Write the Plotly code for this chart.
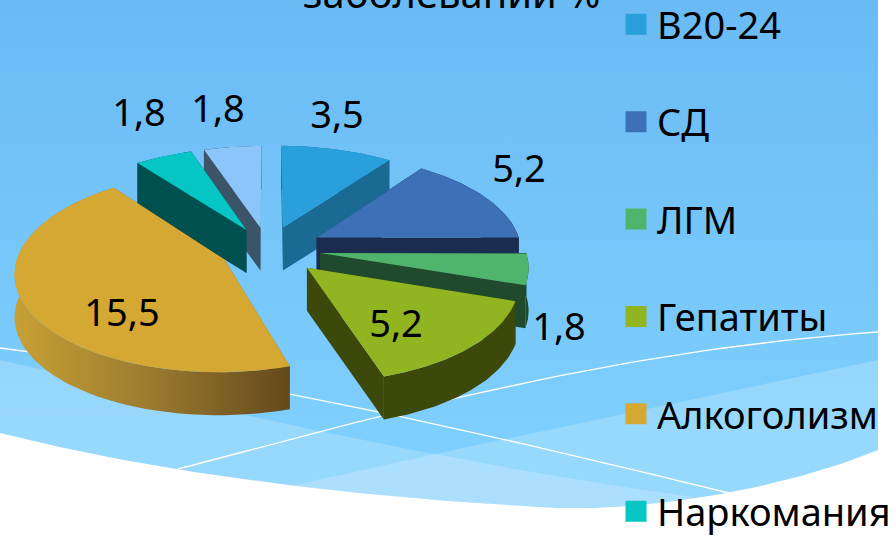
import numpy as np
import plotly.graph_objects as go

# ---- data ----
categories = ["В20-24", "СД", "ЛГМ", "Гепатиты", "Алкоголизм", "Наркомания", "Другие"]
values = [3.5, 5.2, 1.8, 5.2, 15.5, 1.8, 1.8]
value_labels = ["3,5", "5,2", "1,8", "5,2", "15,5", "1,8", "1,8"]
top_colors = ["#299fdc", "#3c71b7", "#4fb56c", "#90b521", "#d5a733", "#05c5c5", "#8bc5fa"]
side_colors = ["#1b6a94", "#1a2d50", "#1f4a2e", "#3d480b", "#8a6a25", "#005050", "#3b5468"]
title_text = "заболеваний %"

# ---- layout of the tilted pie ----
CX, CY = 268, 249
R, TILT, PERSP, DEPTH = 205, 0.47, 0.12, 43
pull = [0.24, 0.27, 0.257, 0.265, 0.236, 0.23, 0.23]
draw_order = [6, 5, 0, 1, 2, 4, 3]
label_x = [337, 519, 559, 396, 122, 139, 218]
label_y = [118, 172, 330, 327, 316, 116, 112]
FONT = "Noto Sans, Open Sans, sans-serif"


def project(X, Y):
    s = 1 / (1 + PERSP * Y)
    return CX + R * X * s, CY - R * TILT * Y * s


def bez(*p, n=40):
    """Sample a Bezier curve for the decorative background."""
    t = np.linspace(0, 1, n)[:, None]
    p = [np.array(q, float) for q in p]
    while len(p) > 1:
        p = [a * (1 - t) + b * t for a, b in zip(p[:-1], p[1:])]
    return p[0]


fig = go.Figure()


def area(pts, color=None, **kw):
    fig.add_trace(go.Scatter(
        x=pts[:, 0], y=pts[:, 1], mode="lines", fill="toself",
        fillcolor=color, line=dict(width=0), hoverinfo="skip", showlegend=False, **kw))


def stroke(pts, color="#ffffff", width=1.3):
    fig.add_trace(go.Scatter(
        x=pts[:, 0], y=pts[:, 1], mode="lines", line=dict(width=width, color=color),
        hoverinfo="skip", showlegend=False))


# ---- background ----
bottom = np.vstack([bez((0, 433), (120, 463), (300, 495), (560, 508)),
                    bez((560, 508), (650, 510), (780, 490), (878, 450))])


def band(top_edge):
    lo, hi = top_edge[:, 0].min(), top_edge[:, 0].max()
    xs = np.linspace(lo, hi, 80)
    ys = np.interp(xs, bottom[:, 0], bottom[:, 1])
    low = np.column_stack([xs, ys])
    if top_edge[0, 0] < top_edge[-1, 0]:
        low = low[::-1]
    return np.vstack([top_edge, low])


area(np.vstack([[[0, 0], [878, 0]], bottom[::-1]]),
     fillgradient=dict(type="vertical", start=0, stop=430,
                       colorscale=[[0, "#6abaf5"], [1, "#7ecffd"]]))
area(band(bez((0, 360), (160, 395), (420, 460), (693, 497))), "rgba(255,255,255,0.2)")
area(band(bez((878, 360), (640, 410), (450, 450), (286, 487))), "rgba(255,255,255,0.2)")
stroke(bez((0, 348), (250, 378), (500, 437), (729, 493)))
stroke(bez((178, 469), (400, 410), (620, 350), (878, 332)))

# ---- slices ----
total = sum(values)
edges = np.cumsum([0] + values) / total * 2 * np.pi
for i in draw_order:
    a0, a1 = edges[i], edges[i + 1]
    mid = (a0 + a1) / 2
    ox, oy = pull[i] * np.sin(mid), pull[i] * np.cos(mid)
    ang = np.linspace(a0, a1, 60)
    ax, ay = project(ox, oy)
    px, py = project(ox + np.sin(ang), oy + np.cos(ang))
    arc = np.column_stack([px, py])
    top = np.vstack([[[ax, ay]], arc])
    drop = np.array([0, DEPTH])
    for seg in ([[ax, ay], arc[0]], [[ax, ay], arc[-1]]):
        seg = np.array(seg)
        area(np.vstack([seg, (seg + drop)[::-1]]), side_colors[i])
    wall = np.vstack([arc, (arc + drop)[::-1]])
    if categories[i] == "Алкоголизм":
        area(wall, fillgradient=dict(type="horizontal",
                                     colorscale=[[0, "#c8a035"], [0.5, "#9a7a2f"], [1, "#64491b"]]))
    else:
        area(wall, side_colors[i])
    area(top, top_colors[i])

# ---- value labels ----
fig.add_trace(go.Scatter(
    x=label_x, y=label_y, mode="text", text=value_labels, cliponaxis=False,
    textfont=dict(family=FONT, size=38, color="#000000"), textposition="middle center",
    hoverinfo="skip", showlegend=False))

# ---- legend ----
for name, col in zip(categories[:6], top_colors[:6]):
    fig.add_trace(go.Scatter(
        x=[None], y=[None], mode="markers", name=name, legendgroup=name,
        marker=dict(symbol="square", size=16, color=col, line=dict(width=5, color=col))))

fig.add_annotation(xref="paper", yref="paper", x=0.505, y=1.0, yanchor="middle", yshift=8,
                   text=title_text, showarrow=False,
                   font=dict(family=FONT, size=40, color="#000000"))

fig.update_layout(
    width=896, height=536, margin=dict(l=0, r=0, t=0, b=0, autoexpand=False),
    paper_bgcolor="#ffffff", plot_bgcolor="rgba(0,0,0,0)",
    xaxis=dict(range=[0, 896], visible=False, fixedrange=True),
    yaxis=dict(range=[536, 0], visible=False, fixedrange=True),
    legend=dict(x=615 / 896, xanchor="left", y=1.013, yanchor="top", bgcolor="rgba(0,0,0,0)",
                tracegroupgap=45, itemsizing="trace", traceorder="grouped", itemwidth=32,
                maxheight=900,
                font=dict(family=FONT, size=38, color="#000000")),
)
fig.write_html("out.html", config={"displayModeBar": False},
               post_script="document.body.style.margin='0';document.body.style.overflow='hidden';")
